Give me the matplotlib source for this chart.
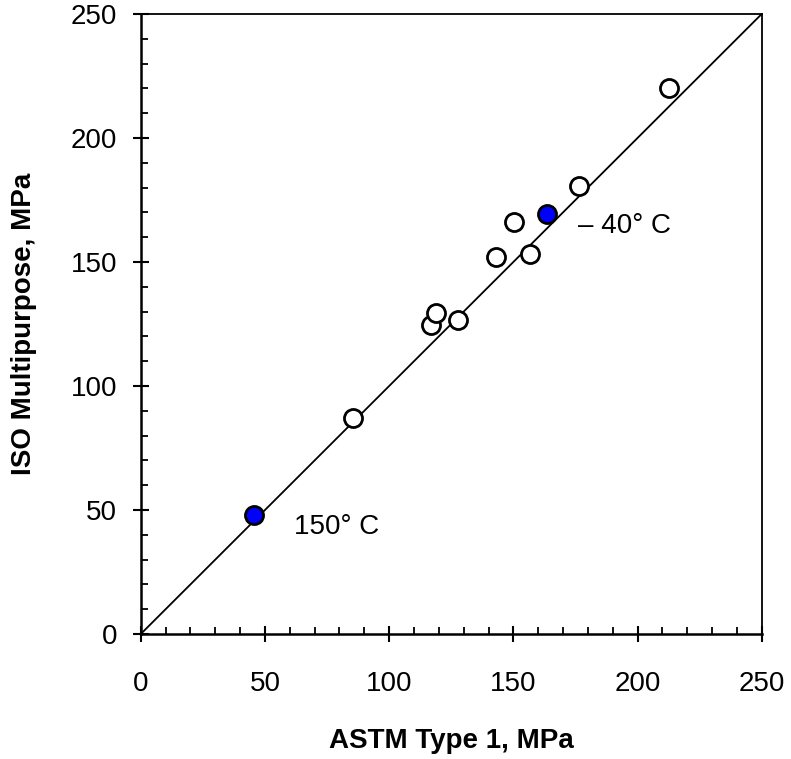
import matplotlib
matplotlib.use('Agg')
import matplotlib.pyplot as plt
from matplotlib.ticker import MultipleLocator

plt.rcParams['font.family'] = ['Liberation Sans', 'DejaVu Sans']

# open circles: room temperature results
astm_open = [85.5, 117.0, 119.0, 127.6, 143.2, 150.2, 156.9, 176.3, 212.6]
iso_open = [87.1, 124.6, 129.6, 126.6, 151.9, 166.1, 153.1, 180.6, 220.3]

# filled circles: temperature extremes
astm_filled = [45.6, 163.7]
iso_filled = [48.0, 169.4]
filled_labels = ['150° C', '\u2013 40° C']
label_offsets = [(29, -8.5), (22, -8.5)]

line_range = [0, 250]

fig = plt.figure(figsize=(7.91, 7.59), dpi=100)
ax = fig.add_axes([0.178, 0.1647, 0.785, 0.8169])

ax.plot(line_range, line_range, color='black', lw=1.3, zorder=1)
ax.plot(astm_open, iso_open, 'o', ms=13, mfc='white', mec='black', mew=2.0, zorder=3)
ax.plot(astm_filled, iso_filled, 'o', ms=13, mfc='#0000ff', mec='black', mew=2.0, zorder=3)

for x, y, t, off in zip(astm_filled, iso_filled, filled_labels, label_offsets):
    ax.annotate(t, (x, y), xytext=off, textcoords='offset points',
                fontsize=20, va='center', ha='left')

ax.set_xlim(0, 250)
ax.set_ylim(0, 250)
ax.xaxis.set_major_locator(MultipleLocator(50))
ax.yaxis.set_major_locator(MultipleLocator(50))
ax.xaxis.set_minor_locator(MultipleLocator(10))
ax.yaxis.set_minor_locator(MultipleLocator(10))
ax.tick_params(which='major', direction='inout', length=12, width=1.5,
               labelsize=20)
ax.tick_params(axis='x', which='major', pad=21)
ax.tick_params(axis='y', which='major', pad=11)
ax.tick_params(which='minor', direction='in', length=5, width=1.3)
ax.tick_params(top=False, right=False, which='both')

for s in ['left', 'bottom']:
    ax.spines[s].set_linewidth(1.8)
for s in ['top', 'right']:
    ax.spines[s].set_linewidth(1.3)

ax.set_xlabel('ASTM Type 1, MPa', fontsize=20, fontweight='bold', labelpad=22)
ax.set_ylabel('ISO Multipurpose, MPa', fontsize=20, fontweight='bold', labelpad=24)

fig.savefig('out.png', dpi=100)
